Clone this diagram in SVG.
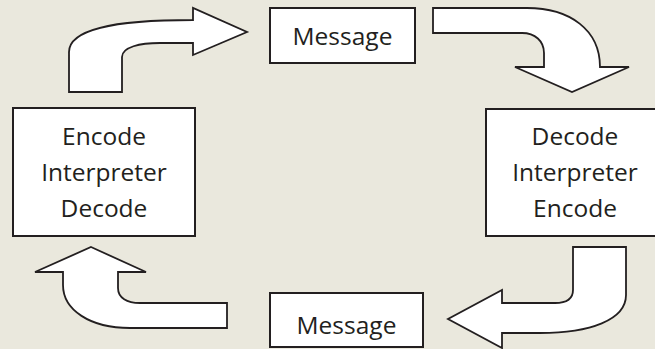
<svg xmlns="http://www.w3.org/2000/svg" width="655" height="349" viewBox="0 0 655 349">
  <style>
    .box { fill: #FFFFFF; stroke: #231F20; stroke-width: 2; }
    .arrow { fill: #FFFFFF; stroke: #231F20; stroke-width: 1.8; stroke-linejoin: miter; }
    .label { font-family: "Open Sans", "Liberation Sans", sans-serif; font-size: 24.5px; fill: #231F20; text-anchor: middle; }
  </style>
  <rect x="0" y="0" width="655" height="349" fill="#EAE8DD"/>
  <g id="connectors">
    <path class="arrow" d="M 69,92 L 69,52 C 69,30 110,20 193,20 L 193,8 L 247,32 L 193,55 L 193,43 L 160,43 C 140,43 122,47 122,57 L 122,92 Z"/>
    <path class="arrow" d="M 433,8 L 527,8 C 570,8 600,30 600,67 L 629,67 L 572,92 L 515,67 L 544,67 L 544,53 C 544,41 535,33 522,33 L 433,33 Z"/>
    <path class="arrow" d="M 573,247 L 626,247 L 626,295 C 626,320 590,333 540,333 L 502,333 L 502,348 L 448,319 L 502,290 L 502,303 L 555,303 C 567,303 573,298 573,290 Z"/>
    <path class="arrow" d="M 91,247 L 146,272 L 118,272 L 118,288 C 118,298 127,303 140,303 L 227,303 L 227,328 L 130,328 C 90,328 63,310 63,285 L 63,272 L 35,272 Z"/>
  </g>
  <g id="message-top">
    <rect class="box" x="270" y="8" width="145" height="55"/>
    <text class="label" x="342.5" y="45">Message</text>
  </g>
  <g id="left-node">
    <rect class="box" x="13" y="108" width="182" height="128"/>
    <text class="label" x="104" y="145">Encode</text>
    <text class="label" x="104" y="181">Interpreter</text>
    <text class="label" x="104" y="217">Decode</text>
  </g>
  <g id="right-node">
    <rect class="box" x="486" y="109" width="180" height="127"/>
    <text class="label" x="575" y="145">Decode</text>
    <text class="label" x="575" y="181">Interpreter</text>
    <text class="label" x="575" y="217">Encode</text>
  </g>
  <g id="message-bottom">
    <rect class="box" x="270" y="293" width="153" height="54"/>
    <text class="label" x="346.5" y="334">Message</text>
  </g>
</svg>
